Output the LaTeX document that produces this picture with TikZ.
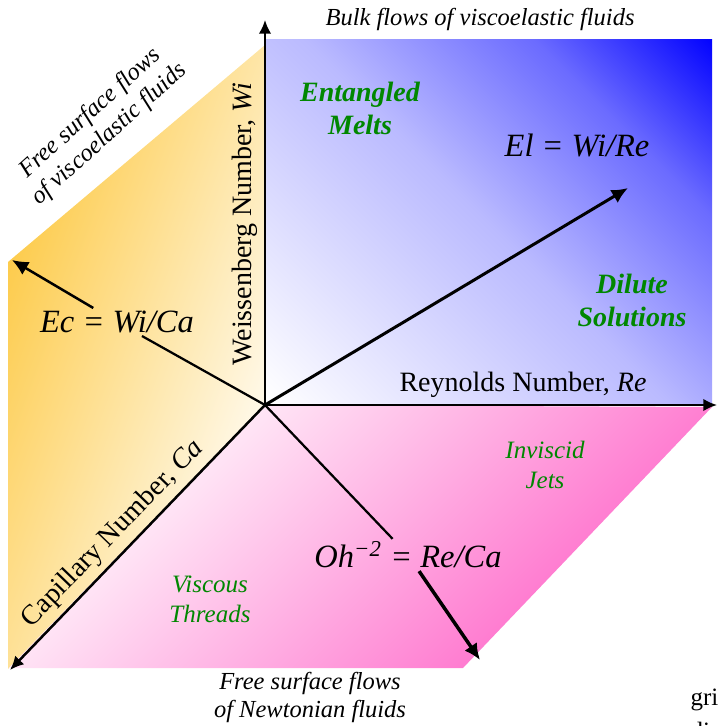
\documentclass[tikz,border=0pt]{standalone}
\usepackage{fontspec}
\setmainfont{Liberation Serif}
\usetikzlibrary{arrows.meta}

\definecolor{bulkblue}{RGB}{0,0,255}
\definecolor{freeorange}{RGB}{253,200,64}
\definecolor{newtpink}{RGB}{255,100,200}
\definecolor{regimegreen}{RGB}{0,135,0}

% white-to-blue ramp, roughly corner to corner
\pgfdeclareverticalshading{bulkramp}{100bp}{color(0bp)=(white); color(15bp)=(white);
    color(50bp)=(bulkblue!27!white); color(70bp)=(bulkblue!58!white);
    color(86bp)=(bulkblue); color(100bp)=(bulkblue)}

\tikzset{
    axisarrow/.style={line width=0.8pt, -{Latex[length=5.5pt, width=5pt]}},
    grouparrow/.style={line width=1.1pt, -{Latex[length=6.5pt, width=6pt]}},
    axislabel/.style={font=\fontsize{11.2}{13}\selectfont},
    ratiolabel/.style={font=\fontsize{13}{15}\selectfont\itshape, inner sep=1pt},
    flowlabel/.style={font=\fontsize{9.8}{11.2}\selectfont\itshape, align=center},
    regime/.style={regimegreen, font=\fontsize{11.2}{13.2}\selectfont\bfseries\itshape, align=center},
    subregime/.style={regimegreen, font=\fontsize{10}{12}\selectfont\itshape, align=center}
}

\begin{document}
\begin{tikzpicture}[x=0.4pt, y=-0.4pt]
    \useasboundingbox (0,0) rectangle (718,726);
    \coordinate (O) at (265,405);

    % the three faces: bulk (blue), free surface viscoelastic (orange), Newtonian (pink)
    \shade[shading=bulkramp, shading angle=-45]
        (O) rectangle (712,40);
    \shade[bottom color=white, top color=freeorange, shading angle=70]
        (O) -- (265,45) -- (8,262) -- (8,669) -- cycle;
    \shade[top color=white, bottom color=newtpink, shading angle=45]
        (O) -- (712,407) -- (463,668) -- (9,668) -- cycle;

    % axes
    \coordinate (wiTip) at (265,20);
    \coordinate (reTip) at (717,405);
    \coordinate (caTip) at (10,670);
    \draw[axisarrow] (O) -- (wiTip);
    \draw[axisarrow] (O) -- (reTip);
    \draw[axisarrow, line width=1pt] (O) -- (caTip);

    \node[axislabel, rotate=90] (wiLabel) at (245,224) {Weissenberg Number, \textit{Wi}};
    \node[axislabel] (reLabel) at (523,385) {Reynolds Number, \textit{Re}};
    \node[axislabel, rotate=46] (caLabel) at (113,534) {Capillary Number, \textit{Ca}};

    % group ratios
    \coordinate (elTip) at (628,188);
    \draw[grouparrow, line width=1.2pt] (O) -- (elTip);
    \node[ratiolabel] (el) at (577,145) {El = Wi/Re};

    \node[ratiolabel] (ec) at (117,322) {Ec = Wi/Ca};
    \coordinate (ecTip) at (12,260);
    \draw[line width=0.9pt] (O) -- (ec);
    \draw[grouparrow, line width=1pt] (ec) -- (ecTip);

    \node[ratiolabel] (oh) at (408,555) {Oh\textsuperscript{−2} = Re/Ca};
    \coordinate (ohTip) at (480,660);
    \draw[line width=0.9pt] (O) -- (oh);
    \draw[grouparrow, line width=1.4pt] (oh) -- (ohTip);

    % flow classes
    \node[flowlabel] (bulk) at (480,19) {Bulk flows of viscoelastic fluids};
    \node[flowlabel, rotate=42] (freeVisco) at (100,124) {Free surface flows\\of viscoelastic fluids};
    \node[flowlabel] (freeNewt) at (310,697) {Free surface flows\\of Newtonian fluids};

    % regimes
    \node[regime] (melts) at (360,108) {Entangled\\Melts};
    \node[regime] (dilute) at (632,300) {Dilute\\Solutions};
    \node[subregime] (jets) at (545,465) {Inviscid\\Jets};
    \node[subregime] (threads) at (210,599) {Viscous\\Threads};

    % text of the page around the figure
    \node[font=\fontsize{10}{12}\selectfont, anchor=base west, inner sep=0pt] (gri) at (690,705) {gri};
    \node[font=\fontsize{10}{12}\selectfont, anchor=base west, inner sep=0pt] (dim) at (690,739) {dim};
\end{tikzpicture}
\end{document}
